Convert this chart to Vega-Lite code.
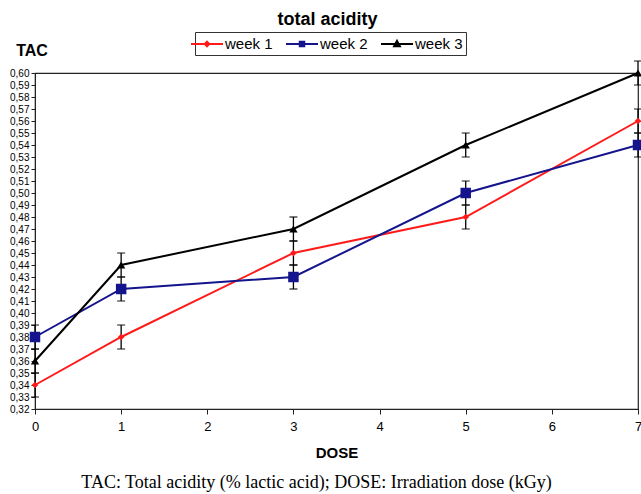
{
  "$schema": "https://vega.github.io/schema/vega-lite/v6.json",
  "width": 603,
  "height": 336,
  "autosize": {"type": "none"},
  "padding": {"left": 35, "top": 73, "right": 3, "bottom": 85},
  "background": "white",
  "title": {"text": "total acidity", "font": "Liberation Sans", "fontSize": 18, "fontWeight": "bold", "color": "#000", "anchor": "middle", "offset": 3, "dx": -9},
  "config": {
    "view": {"stroke": "#222", "strokeWidth": 1.2},
    "axis": {"grid": false, "domainColor": "#222", "tickColor": "#222", "labelColor": "#000", "labelFont": "Liberation Sans", "titleFont": "Liberation Sans", "titleColor": "#000"},
    "axisY": {"title": "TAC", "titleAngle": 0, "titleFontSize": 16, "titleFontWeight": "bold", "titleX": -3.5, "titleY": -23, "titleAlign": "center", "titleBaseline": "middle",
      "labelFontSize": 10, "labelOverlap": false, "tickSize": 4, "labelPadding": 2}
  },
  "data": {"values": [
    {"dose": 0, "week": "week 1", "tac": 0.34, "lo": 0.33, "hi": 0.35},
    {"dose": 1, "week": "week 1", "tac": 0.38, "lo": 0.37, "hi": 0.39},
    {"dose": 3, "week": "week 1", "tac": 0.45, "lo": 0.44, "hi": 0.46},
    {"dose": 5, "week": "week 1", "tac": 0.48, "lo": 0.47, "hi": 0.49},
    {"dose": 7, "week": "week 1", "tac": 0.56, "lo": 0.55, "hi": 0.57},
    {"dose": 0, "week": "week 2", "tac": 0.38, "lo": 0.37, "hi": 0.39},
    {"dose": 1, "week": "week 2", "tac": 0.42, "lo": 0.41, "hi": 0.43},
    {"dose": 3, "week": "week 2", "tac": 0.43, "lo": 0.42, "hi": 0.44},
    {"dose": 5, "week": "week 2", "tac": 0.50, "lo": 0.49, "hi": 0.51},
    {"dose": 7, "week": "week 2", "tac": 0.54, "lo": 0.53, "hi": 0.55},
    {"dose": 0, "week": "week 3", "tac": 0.36, "lo": 0.35, "hi": 0.37},
    {"dose": 1, "week": "week 3", "tac": 0.44, "lo": 0.43, "hi": 0.45},
    {"dose": 3, "week": "week 3", "tac": 0.47, "lo": 0.46, "hi": 0.48},
    {"dose": 5, "week": "week 3", "tac": 0.54, "lo": 0.53, "hi": 0.55},
    {"dose": 7, "week": "week 3", "tac": 0.60, "lo": 0.59, "hi": 0.61}
  ]},
  "resolve": {"axis": {"x": "independent"}},
  "layer": [
    {
      "mark": {"type": "line", "strokeWidth": 2},
      "encoding": {
        "x": {"field": "dose", "type": "quantitative", "scale": {"domain": [0, 7], "nice": false},
          "axis": {"orient": "bottom", "title": "DOSE", "titleFontSize": 15, "titleFontWeight": "bold", "titlePadding": 12, "values": [0,1,2,3,4,5,6,7], "labelFontSize": 13, "labelPadding": 6, "tickSize": 5, "labelFlush": false}},
        "y": {"field": "tac", "type": "quantitative", "title": "TAC", "scale": {"domain": [0.32, 0.60], "nice": false, "zero": false},
          "axis": {"values": [0.32,0.33,0.34,0.35,0.36,0.37,0.38,0.39,0.40,0.41,0.42,0.43,0.44,0.45,0.46,0.47,0.48,0.49,0.50,0.51,0.52,0.53,0.54,0.55,0.56,0.57,0.58,0.59,0.60], "tickCount": 40, "labelOverlap": false, "labelExpr": "replace(format(datum.value, '.2f'), '.', ',')"}},
        "color": {"field": "week", "type": "nominal",
          "scale": {"domain": ["week 1", "week 2", "week 3"], "range": ["#ff1a1a", "#14148c", "#000000"]},
          "legend": {"title": null, "orient": "none", "direction": "horizontal", "legendX": 160, "legendY": -41,
            "strokeColor": "#333", "padding": 3, "labelFontSize": 15, "labelFont": "Liberation Sans", "labelColor": "#000",
            "symbolSize": 256, "symbolStrokeWidth": 2, "labelOffset": 9, "columnPadding": 9,
            "encode": {"symbols": {"update": {
              "shape": {"signal": "datum.value === 'week 1' ? 'M-2,0H2M0,-0.28L0.28,0L0,0.28L-0.28,0Z' : datum.value === 'week 2' ? 'M-2,0H2M-0.28,-0.28H0.28V0.28H-0.28Z' : 'M-2,0H2M0,-0.38L0.36,0.28H-0.36Z'"},
              "fill": {"scale": "color", "field": "value"},
              "stroke": {"scale": "color", "field": "value"}
            }}}}
        }
      }
    },
    {
      "mark": {"type": "errorbar", "ticks": {"size": 8}, "color": "#000", "thickness": 1.3},
      "encoding": {
        "x": {"field": "dose", "type": "quantitative", "axis": null},
        "y": {"field": "lo", "type": "quantitative", "title": "TAC",
          "axis": {"values": [0.32,0.33,0.34,0.35,0.36,0.37,0.38,0.39,0.40,0.41,0.42,0.43,0.44,0.45,0.46,0.47,0.48,0.49,0.50,0.51,0.52,0.53,0.54,0.55,0.56,0.57,0.58,0.59,0.60], "tickCount": 40, "labelOverlap": false, "labelExpr": "replace(format(datum.value, '.2f'), '.', ',')"}},
        "y2": {"field": "hi"}
      }
    },
    {
      "transform": [{"filter": "datum.week === 'week 1'"}],
      "mark": {"type": "point", "filled": true, "opacity": 1, "shape": "diamond", "size": 45, "color": "#ff1a1a"},
      "encoding": {
        "x": {"field": "dose", "type": "quantitative", "axis": null},
        "y": {"field": "tac", "type": "quantitative", "title": "TAC",
          "axis": {"values": [0.32,0.33,0.34,0.35,0.36,0.37,0.38,0.39,0.40,0.41,0.42,0.43,0.44,0.45,0.46,0.47,0.48,0.49,0.50,0.51,0.52,0.53,0.54,0.55,0.56,0.57,0.58,0.59,0.60], "tickCount": 40, "labelOverlap": false, "labelExpr": "replace(format(datum.value, '.2f'), '.', ',')"}}
      }
    },
    {
      "transform": [{"filter": "datum.week === 'week 2'"}],
      "mark": {"type": "point", "filled": true, "opacity": 1, "shape": "square", "size": 110, "color": "#14148c"},
      "encoding": {
        "x": {"field": "dose", "type": "quantitative", "axis": null},
        "y": {"field": "tac", "type": "quantitative", "title": "TAC",
          "axis": {"values": [0.32,0.33,0.34,0.35,0.36,0.37,0.38,0.39,0.40,0.41,0.42,0.43,0.44,0.45,0.46,0.47,0.48,0.49,0.50,0.51,0.52,0.53,0.54,0.55,0.56,0.57,0.58,0.59,0.60], "tickCount": 40, "labelOverlap": false, "labelExpr": "replace(format(datum.value, '.2f'), '.', ',')"}}
      }
    },
    {
      "transform": [{"filter": "datum.week === 'week 3'"}],
      "mark": {"type": "point", "filled": true, "opacity": 1, "shape": "triangle-up", "size": 70, "color": "#000000"},
      "encoding": {
        "x": {"field": "dose", "type": "quantitative", "axis": {"orient": "bottom", "title": "TAC: Total acidity (% lactic acid); DOSE: Irradiation dose (kGy)", "titleFont": "Liberation Serif", "titleFontSize": 18, "titleFontWeight": "normal", "labels": false, "ticks": false, "domain": false, "offset": 64, "titlePadding": 0, "titleX": 281}},
        "y": {"field": "tac", "type": "quantitative", "title": "TAC",
          "axis": {"values": [0.32,0.33,0.34,0.35,0.36,0.37,0.38,0.39,0.40,0.41,0.42,0.43,0.44,0.45,0.46,0.47,0.48,0.49,0.50,0.51,0.52,0.53,0.54,0.55,0.56,0.57,0.58,0.59,0.60], "tickCount": 40, "labelOverlap": false, "labelExpr": "replace(format(datum.value, '.2f'), '.', ',')"}}
      }
    }
  ]
}
